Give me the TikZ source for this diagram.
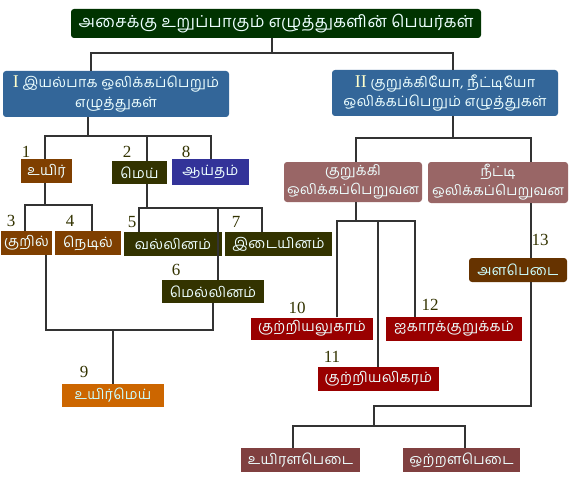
\documentclass[tikz,border=0pt]{standalone}
\usepackage{fontspec}
\setmainfont{Liberation Serif}
\newfontfamily\ta[Script=Tamil,LetterSpace=2]{Hind Madurai}
\newfontfamily\tb[Script=Tamil,LetterSpace=1]{Hind Madurai}
\definecolor{cTitle}{HTML}{003300}
\definecolor{cBlue}{HTML}{336699}
\definecolor{cRose}{HTML}{996666}
\definecolor{cBrown}{HTML}{7F3F00}
\definecolor{cOlive}{HTML}{333300}
\definecolor{cIndigo}{HTML}{333399}
\definecolor{cOrange}{HTML}{CC6600}
\definecolor{cRed}{HTML}{990000}
\definecolor{cDkBrown}{HTML}{663300}
\definecolor{cMaroon}{HTML}{804040}
\definecolor{cText}{HTML}{EEFFFF}
\definecolor{cCyan}{HTML}{CCFFFF}
\definecolor{cRoman}{HTML}{FFFFCC}
\definecolor{cNum}{HTML}{333300}
\definecolor{cLine}{HTML}{333333}
\begin{document}
\begin{tikzpicture}[x=1pt,y=1pt,
  box/.style={rectangle,inner sep=0pt,text=cText,font=\ta\fontsize{14.3}{19.5}\selectfont,align=center},
  rbox/.style={box,rounded corners=3pt},
  rose/.style={rbox,fill=cRose,font=\tb\fontsize{14}{19}\selectfont},
  num/.style={inner sep=0pt,text=cNum,font=\fontsize{17}{17}\selectfont},
  conn/.style={draw=cLine,line width=2pt}]
\useasboundingbox (0,0) rectangle (570,-500);
\fill[white] (0,0) rectangle (570,-500);
% nodes
\node[rbox,fill=cTitle,minimum width=410,minimum height=29,font=\ta\fontsize{16.5}{18}\selectfont] (title) at (276,-23.5) {அசைக்கு உறுப்பாகும் எழுத்துகளின் பெயர்கள்};
\node[rbox,fill=cBlue,minimum width=226,minimum height=46] (I) at (116,-94) {{\rmfamily\color{cRoman}\fontsize{18}{18}\selectfont I} இயல்பாக ஒலிக்கப்பெறும்\\எழுத்துகள்};
\node[rbox,fill=cBlue,minimum width=226,minimum height=46] (II) at (445,-93) {{\rmfamily\color{cRoman}\fontsize{18}{18}\selectfont II} குறுக்கியோ, நீட்டியோ\\ஒலிக்கப்பெறும் எழுத்துகள்};
\node[box,fill=cBrown,minimum width=51,minimum height=24] (uyir) at (46.5,-171) {உயிர்};
\node[box,fill=cOlive,minimum width=55,minimum height=23] (mei) at (139.5,-172.5) {மெய்};
\node[box,fill=cIndigo,minimum width=77,minimum height=26] (aaytham) at (210.5,-172) {ஆய்தம்};
\node[box,fill=cBrown,minimum width=51,minimum height=24] (kuril) at (26.5,-243) {குறில்};
\node[box,fill=cBrown,minimum width=66,minimum height=24] (nedil) at (88,-243) {நெடில்};
\node[box,fill=cOlive,minimum width=98,minimum height=24] (vallinam) at (173,-244) {வல்லினம்};
\node[box,fill=cOlive,minimum width=107,minimum height=24] (idaiyinam) at (278.5,-244) {இடையினம்};
\node[box,fill=cOlive,minimum width=102,minimum height=23] (mellinam) at (213,-291.5) {மெல்லினம்};
\node[box,fill=cOrange,minimum width=102,minimum height=23,text=cCyan] (uyirmei) at (113,-395.5) {உயிர்மெய்};
\node[rose,minimum width=138,minimum height=40] (kurukki) at (353,-182) {குறுக்கி\\ஒலிக்கப்பெறுவன};
\node[rose,minimum width=140,minimum height=41] (nedi) at (498,-182.5) {நீட்டி\\ஒலிக்கப்பெறுவன};
\node[box,fill=cRed,minimum width=122,minimum height=22] (kuA) at (312,-328.5) {குற்றியலுகரம்};
\node[box,fill=cRed,minimum width=136,minimum height=24] (aik) at (454,-329) {ஐகாரக்குறுக்கம்};
\node[box,fill=cRed,minimum width=121,minimum height=24] (kuI) at (378.5,-379) {குற்றியலிகரம்};
\node[rbox,fill=cDkBrown,minimum width=98,minimum height=24,text=cCyan] (alapedai) at (518,-270) {அளபெடை};
\node[box,fill=cMaroon,minimum width=119,minimum height=24] (uyA) at (300.5,-460) {உயிரளபெடை};
\node[box,fill=cMaroon,minimum width=117,minimum height=24] (otA) at (461.5,-460) {ஒற்றளபெடை};
% number labels
\node[num] (n1) at (26,-152) {1};
\node[num] (n2) at (127,-152) {2};
\node[num] (n8) at (186,-152) {8};
\node[num] (n3) at (11,-221) {3};
\node[num] (n4) at (70,-221) {4};
\node[num] (n5) at (132,-222) {5};
\node[num] (n7) at (236,-222) {7};
\node[num] (n6) at (176,-270) {6};
\node[num] (n9) at (84,-372) {9};
\node[num] (n10) at (297,-308) {10};
\node[num] (n12) at (430,-305) {12};
\node[num] (n11) at (332,-357) {11};
\node[num] (n13) at (540,-240) {13};
% connectors
\coordinate (j0) at (272,-53);
\draw[conn] (title.south -| j0) -- (j0);
\draw[conn] ([xshift=-25pt]I.north) |- (j0) -| ([xshift=8pt]II.north);
\coordinate (j1) at (88,-136);
\coordinate (j1m) at (147,-136);
\draw[conn] (I.south -| j1) -- (j1);
\draw[conn] ([xshift=-1.5pt]uyir.north) |- (j1) -| (aaytham.north);
\draw[conn] (j1m) -- (mei.north -| j1m);
\coordinate (j2) at (45,-205);
\draw[conn] (uyir.south -| j2) -- (j2);
\draw[conn] ([xshift=-1.5pt]kuril.north) |- (j2) -| ([xshift=4pt]nedil.north);
\coordinate (j3) at (147,-208);
\coordinate (j3m) at (218,-208);
\draw[conn] (mei.south -| j3) -- (j3);
\draw[conn] ([xshift=-34pt]vallinam.north) |- (j3) -| ([xshift=-16.5pt]idaiyinam.north);
\draw[conn] (j3m) -- (mellinam.north -| j3m);
\coordinate (j4) at (113,-330);
\draw[conn] ([xshift=19.5pt]kuril.south) |- (j4) -| (mellinam.south);
\draw[conn] (j4) -- (uyirmei.north);
\coordinate (j5) at (453,-138);
\draw[conn] (II.south -| j5) -- (j5);
\draw[conn] ([xshift=3pt]kurukki.north) |- (j5) -| ([xshift=33pt]nedi.north);
\coordinate (j6) at (356,-221);
\coordinate (j6m) at (378,-221);
\draw[conn] (kurukki.south -| j6) -- (j6);
\draw[conn] ([xshift=25pt]kuA.north) |- (j6) -| ([xshift=-39pt]aik.north);
\draw[conn] (j6m) -- (kuI.north -| j6m);
\coordinate (j7) at (531,-406);
\coordinate (j8) at (374,-426);
\draw[conn] ([xshift=33pt]nedi.south) -- ([xshift=13pt]alapedai.north);
\draw[conn] ([xshift=13pt]alapedai.south) -- (j7) -| (j8);
\draw[conn] ([xshift=-7.5pt]uyA.north) |- (j8) -| ([xshift=3.5pt]otA.north);
\end{tikzpicture}
\end{document}
